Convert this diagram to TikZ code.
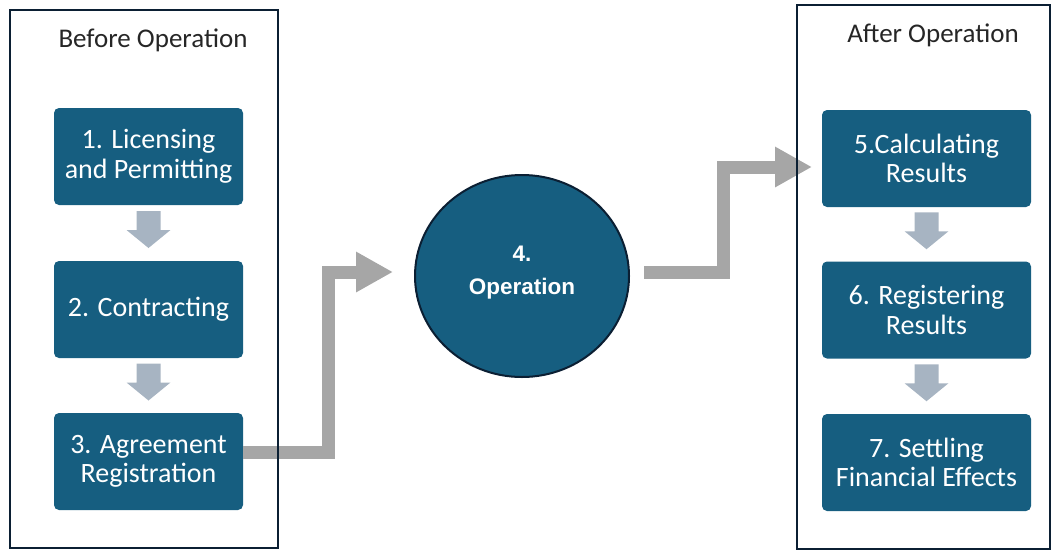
\documentclass[tikz,border=0pt]{standalone}
\usepackage{fontspec}
\setmainfont{Carlito}
\newfontfamily\opfont{Liberation Sans}
\usetikzlibrary{calc,shapes.geometric,arrows.meta}
\definecolor{boxblue}{HTML}{165E80}
\definecolor{framecol}{HTML}{0B1F33}
\definecolor{downcol}{HTML}{A7B4C2}
\definecolor{conncol}{HTML}{A6A6A6}
\tikzset{
  stepbox/.style={rectangle, rounded corners=5pt, fill=boxblue, text=white,
    minimum height=97pt, inner sep=0pt, align=center,
    font=\fontsize{28}{29.5}\selectfont},
  leftbox/.style={stepbox, minimum width=189pt},
  rightbox/.style={stepbox, minimum width=209pt},
  framebox/.style={draw=framecol, line width=2pt},
  titletext/.style={font=\fontsize{27}{28}\selectfont, text=black!85},
  connector/.style={draw=conncol, line width=13pt, line join=miter,
    -{Triangle[length=37pt,width=38pt]}},
  downarrow/.pic={\fill[downcol] (-12,-20) -- (12,-20) -- (12,-1) -- (22,-1)
      -- (0,17) -- (-22,-1) -- (-12,-1) -- cycle;}
}
\begin{document}
\begin{tikzpicture}[x=1pt,y=-1pt]
\useasboundingbox (0,0) rectangle (1056,552);
% titles
\node[titletext] (tb) at (153,40) {Before Operation};
\node[titletext] (ta) at (933,35) {After Operation};
% left boxes
\node[leftbox] (b1) at (148.5,156.5) {1. Licensing\\and Permitting};
\node[leftbox] (b2) at (148.5,309.5) {2. Contracting};
\node[leftbox] (b3) at (148.5,461.5) {3. Agreement\\Registration};
% right boxes
\node[rightbox] (b5) at (926.5,158.5) {5.Calculating\\Results};
\node[rightbox] (b6) at (926.5,310) {6. Registering\\Results};
\node[rightbox] (b7) at (926.5,462.5) {7. Settling\\Financial Effects};
% operation
\node[ellipse, draw=framecol, line width=2pt, fill=boxblue,
  minimum width=214pt, minimum height=202pt, inner sep=0pt,
  label={[text=white, align=center, yshift=3pt,
    font=\opfont\bfseries\fontsize{22.5}{33}\selectfont]center:4.\\Operation}]
  (op) at (522,276) {};
% down arrows
\pic at ($(b1.south)!0.5!(b2.north)+(0,-2)$) {downarrow};
\pic at ($(b2.south)!0.5!(b3.north)+(0,-2)$) {downarrow};
\pic at ($(b5.south)!0.5!(b6.north)+(0,-2)$) {downarrow};
\pic at ($(b6.south)!0.5!(b7.north)+(0,-2)$) {downarrow};
% connectors
\coordinate (c1) at (328,272);
\coordinate (t1) at (393,272);
\coordinate (c2) at (723,167);
\coordinate (t2) at (812,167);
\draw[connector] ([yshift=9pt]b3.east) -| (c1) -- (t1);
\draw[connector] ([xshift=14pt,yshift=4pt]op.east) -| (c2) -- (t2);
% frames
\draw[framebox] (10,10) rectangle (278,548);
\draw[framebox] (797,5) rectangle (1050,549);
\end{tikzpicture}
\end{document}
